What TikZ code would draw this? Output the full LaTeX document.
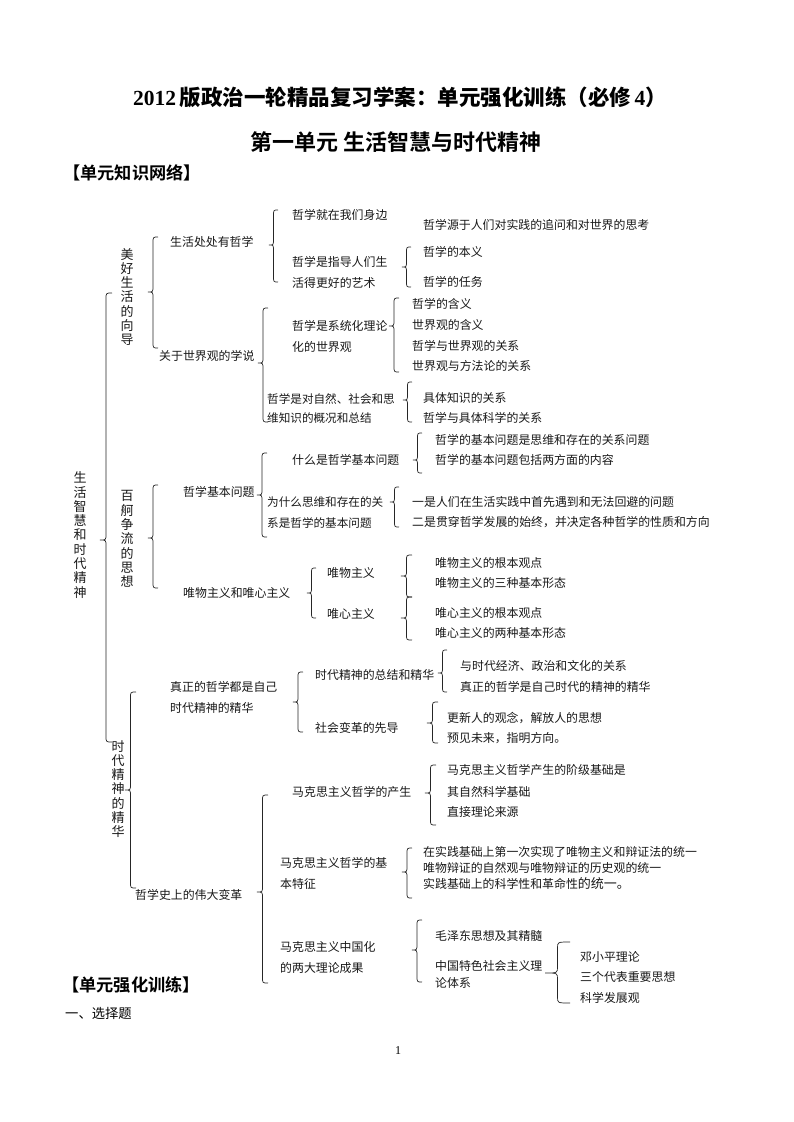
\documentclass[tikz,border=0pt]{standalone}
\usepackage{fontspec}
\setmainfont{Liberation Serif}
\newfontfamily\cjk{Noto Sans CJK SC}
\newfontfamily\cjkb{Noto Sans CJK SC Bold}
\newcommand{\brc}[5]{%
  \draw[brcline] (#1+#5,#2) .. controls (#1+0.5*#5,#2) .. (#1+0.5*#5,#2+6)
    -- (#1+0.5*#5,#3-6) .. controls (#1+0.5*#5,#3) .. (#1,#3)
    .. controls (#1+0.5*#5,#3) .. (#1+0.5*#5,#3+6)
    -- (#1+0.5*#5,#4-6) .. controls (#1+0.5*#5,#4) .. (#1+#5,#4);}
\tikzset{
  brcline/.style={line width=0.7pt, black!85},
  lbl/.style={anchor=west, inner sep=0pt, align=left, font=\cjk\fontsize{11.9}{21}\selectfont, text=black!90},
  vt/.style={inner sep=0pt, align=center, font=\cjk\fontsize{13}{14.3}\selectfont, text=black!90},
  ttl/.style={inner sep=0pt},
}
\begin{document}
\begin{tikzpicture}[x=1pt,y=-1pt]
\fill[white] (0,0) rectangle (793,1122);
\useasboundingbox (0,0) rectangle (793,1122);
% header
\node[ttl, font=\fontsize{21.5}{24}\selectfont] (t1) at (400,97) {\bfseries 2012\,{\cjkb 版政治一轮精品复习学案：单元强化训练（必修}\,4{\cjkb ）}};
\node[ttl, font=\fontsize{22}{24}\selectfont] (t2) at (396,142) {\cjkb 第一单元 生活智慧与时代精神};
\node[inner sep=0pt, anchor=west, font=\cjkb\fontsize{17.2}{20}\selectfont] (t3) at (63,173) {【单元知识网络】};
% root
\node[vt] (root) at (80,535) {生\\活\\智\\慧\\和\\时\\代\\精\\神};
\brc{100}{293}{540}{742}{12}
\node[vt] (a1) at (127,297) {美\\好\\生\\活\\的\\向\\导};
\node[vt] (a2) at (127,539) {百\\舸\\争\\流\\的\\思\\想};
\node[vt] (a3) at (118,789) {时\\代\\精\\神\\的\\精\\华};
% section 1
\brc{148}{237}{292}{348}{10}
\node[lbl] (b1) at (170,242) {生活处处有哲学};
\node[lbl] (b2) at (159,356) {关于世界观的学说};
\brc{269}{210}{245}{282}{9}
\node[lbl] (c1) at (292,215) {哲学就在我们身边};
\node[lbl] (c2) at (292,272.5) {哲学是指导人们生\\活得更好的艺术};
\node[lbl] (c0) at (423,225) {哲学源于人们对实践的追问和对世界的思考};
\brc{402}{247}{267}{287}{9}
\node[lbl] (d1) at (423,252) {哲学的本义};
\node[lbl] (d2) at (423,282) {哲学的任务};
\brc{258}{308}{363}{422}{10}
\node[lbl] (c3) at (292,336) {哲学是系统化理论\\化的世界观};
\node[lbl, font=\cjk\fontsize{11.6}{19.5}\selectfont] (c4) at (267,408.5) {哲学是对自然、社会和思\\维知识的概况和总结};
\brc{389}{298}{326}{372}{10}
\node[lbl] (d3) at (412,304) {哲学的含义};
\node[lbl] (d4) at (412,325) {世界观的含义};
\node[lbl] (d5) at (412,346) {哲学与世界观的关系};
\node[lbl] (d6) at (412,366) {世界观与方法论的关系};
\brc{403}{382}{400}{422}{9}
\node[lbl] (d7) at (423,398) {具体知识的关系};
\node[lbl] (d8) at (423,418) {哲学与具体科学的关系};
% section 2
\brc{148}{485}{538}{588}{10}
\node[lbl] (b3) at (183,492) {哲学基本问题};
\node[lbl] (b4) at (183,593) {唯物主义和唯心主义};
\brc{257}{453}{495}{537}{10}
\node[lbl] (c5) at (292,460) {什么是哲学基本问题};
\node[lbl, font=\cjk\fontsize{11.6}{21}\selectfont] (c6) at (267,512.5) {为什么思维和存在的关\\系是哲学的基本问题};
\brc{413}{433}{460}{473}{9}
\node[lbl] (d9) at (435,440) {哲学的基本问题是思维和存在的关系问题};
\node[lbl] (d10) at (435,460) {哲学的基本问题包括两方面的内容};
\brc{390}{487}{502}{527}{9}
\node[lbl] (d11) at (412,502) {一是人们在生活实践中首先遇到和无法回避的问题};
\node[lbl] (d12) at (412,522) {二是贯穿哲学发展的始终，并决定各种哲学的性质和方向};
\brc{307}{568}{593}{618}{9}
\node[lbl] (c7) at (327,573) {唯物主义};
\node[lbl] (c8) at (327,614) {唯心主义};
\brc{401}{555}{576}{597}{11}
\brc{401}{597}{618}{640}{11}
\node[lbl] (d13) at (435,563) {唯物主义的根本观点};
\node[lbl] (d14) at (435,583) {唯物主义的三种基本形态};
\node[lbl] (d15) at (435,613) {唯心主义的根本观点};
\node[lbl] (d16) at (435,633) {唯心主义的两种基本形态};
% section 3
\brc{125}{692}{790}{888}{11}
\node[lbl] (b5) at (170,697.5) {真正的哲学都是自己\\时代精神的精华};
\node[lbl] (b6) at (135,895) {哲学史上的伟大变革};
\brc{293}{672}{702}{732}{10}
\node[lbl] (c9) at (315,675) {时代精神的总结和精华};
\node[lbl] (c10) at (315,728) {社会变革的先导};
\brc{438}{650}{673}{692}{9}
\node[lbl] (d17) at (460,666) {与时代经济、政治和文化的关系};
\node[lbl] (d18) at (460,687) {真正的哲学是自己时代的精神的精华};
\brc{427}{702}{723}{743}{11}
\node[lbl] (d19) at (447,718) {更新人的观念，解放人的思想};
\node[lbl] (d20) at (447,738) {预见未来，指明方向。};
\brc{257}{795}{892}{983}{11}
\node[lbl] (c11) at (292,792) {马克思主义哲学的产生};
\node[lbl] (c12) at (280,873.5) {马克思主义哲学的基\\本特征};
\node[lbl] (c13) at (280,957) {马克思主义中国化\\的两大理论成果};
\brc{425}{765}{793}{825}{11}
\node[lbl] (d21) at (447,770) {马克思主义哲学产生的阶级基础是};
\node[lbl] (d22) at (447,792) {其自然科学基础};
\node[lbl] (d23) at (447,812) {直接理论来源};
\brc{402}{848}{872}{898}{10}
\node[lbl] (d24) at (423,852) {在实践基础上第一次实现了唯物主义和辩证法的统一};
\node[lbl] (d25) at (423,867.5) {唯物辩证的自然观与唯物辩证的历史观的统一};
\node[lbl] (d26) at (423,884) {实践基础上的科学性和革命性{\fontsize{13}{14}\selectfont 的统一。}};
\brc{412}{920}{950}{982}{10}
\node[lbl] (d27) at (435,936) {毛泽东思想及其精髓};
\node[lbl, font=\cjk\fontsize{11.9}{17.5}\selectfont] (d28) at (435,974.5) {中国特色社会主义理\\论体系};
\brc{545}{942}{973}{1003}{25}
\node[lbl] (e1) at (580,957) {邓小平理论};
\node[lbl] (e2) at (580,977) {三个代表重要思想};
\node[lbl] (e3) at (580,998) {科学发展观};
% footer
\node[inner sep=0pt, anchor=west, font=\cjkb\fontsize{17.2}{20}\selectfont] (s2) at (62,985) {【单元强化训练】};
\node[inner sep=0pt, anchor=west, font=\cjk\fontsize{13.3}{16}\selectfont] (s3) at (65,1013) {一、选择题};
\node[inner sep=0pt, font=\fontsize{12}{14}\selectfont] (pg) at (398,1051) {1};
\end{tikzpicture}
\end{document}
